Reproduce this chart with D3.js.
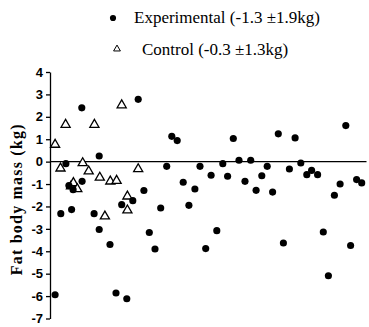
<!DOCTYPE html>
<html>
<head>
<meta charset="utf-8">
<script src="https://cdn.jsdelivr.net/npm/d3@7"></script>
<style>
  body { margin: 0; background: #fff; }
  svg { display: block; }
</style>
</head>
<body>
<div id="chart"></div>
<script>
// subject position along the row (arbitrary units) and change in fat mass (kg)
const expX = [1.7, 3.6, 5.3, 6.3, 7.2, 7.7, 10.6, 10.7, 14.7, 16.4, 16.4, 20, 22, 23.9, 25.6, 27.6,
  29.4, 31.3, 33.1, 35, 36.9, 38.9, 40.6, 42.4, 44.4, 46.3, 48.3, 50, 51.9, 53.7, 55.6, 57.6,
  59.2, 61.1, 63, 65, 66.9, 68.7, 70.6, 72.4, 74.2, 76.1, 77.8, 79.8, 81.7, 83.6, 85.6, 87.2,
  89.2, 91.1, 92.8, 94.8, 96.7, 98.6, 100.2, 102.2, 103.9];
const expY = [-5.94, -2.32, -0.09, -1.07, -2.14, -1.25, 2.4, -0.88, -2.32, 0.25, -3.03, -3.7, -5.86,
  -1.92, -6.12, -1.74, 2.78, -1.29, -3.16, -3.9, -2.07, -0.21, 1.13, 0.94, -0.92, -1.95, -1.22,
  -0.21, -3.88, -0.61, -3.08, -0.09, -0.65, 1.03, 0.06, -0.88, 0.06, -1.28, -0.63, -0.21, -1.36,
  1.24, -3.63, -0.33, 1.06, -0.06, -0.58, -0.39, -0.58, -3.14, -5.09, -1.5, -1.0, 1.61, -3.74,
  -0.8, -0.95];

const ctlX = [1.7, 3.5, 5.2, 7.0, 7.8, 9.1, 10.9, 12.9, 14.8, 16.6, 18.3, 20.1, 22.2, 23.9, 25.8, 25.8, 29.4];
const ctlY = [0.76, -0.3, 1.65, -1.1, -0.95, -1.22, -0.06, -0.43, 1.65, -0.71, -2.44, -0.88, -0.85,
  2.52, -1.55, -2.17, -0.33];

const yTicks = [4, 3, 2, 1, 0, -1, -2, -3, -4, -5, -6, -7];
const legendLabels = ['Experimental (-1.3 \u00b11.9kg)', 'Control (-0.3 \u00b11.3kg)'];

const width = 369, height = 327;

const svg = d3.select('#chart').append('svg')
  .attr('width', width)
  .attr('height', height);

const x = d3.scaleLinear().domain([0, 106]).range([50, 368]);
const y = d3.scaleLinear().domain([-7, 4]).range([318.5, 72]);

// y axis
const yAxis = d3.axisLeft(y)
  .tickValues(yTicks)
  .tickSize(4)
  .tickSizeOuter(0)
  .tickFormat(d => String(d));

const gy = svg.append('g')
  .attr('transform', 'translate(50,0)')
  .call(yAxis);
gy.select('.domain').attr('stroke', '#000').attr('stroke-width', 1.3);
gy.selectAll('.tick line').attr('stroke', '#000').attr('stroke-width', 1.3);
gy.selectAll('.tick text')
  .attr('x', -7)
  .attr('font-family', 'Liberation Sans, Arial, sans-serif')
  .attr('font-weight', 'bold')
  .attr('font-size', 13)
  .attr('fill', '#000');

// zero line
svg.append('line')
  .attr('x1', x(0)).attr('x2', x(105.5))
  .attr('y1', y(0)).attr('y2', y(0))
  .attr('stroke', '#000')
  .attr('stroke-width', 1.4);

// axis title
svg.append('text')
  .attr('transform', `translate(22,${(y(4) + y(-7)) / 2 + 4}) rotate(-90)`)
  .attr('text-anchor', 'middle')
  .attr('font-family', 'Liberation Serif, Times New Roman, serif')
  .attr('font-weight', 'bold')
  .attr('font-size', 16)
  .attr('letter-spacing', 1.2)
  .text('Fat body mass (kg)');

const circle = d3.symbol().type(d3.symbolCircle).size(40);
const tri = d3.symbol().type(d3.symbolTriangle).size(36);

// control (open triangles)
svg.append('g').selectAll('path')
  .data(ctlX.map((v, i) => [v, ctlY[i]]))
  .join('path')
  .attr('d', tri)
  .attr('transform', d => `translate(${x(d[0])},${y(d[1])})`)
  .attr('fill', '#fff')
  .attr('stroke', '#000')
  .attr('stroke-width', 1.3);

// experimental (filled circles)
svg.append('g').selectAll('path')
  .data(expX.map((v, i) => [v, expY[i]]))
  .join('path')
  .attr('d', circle)
  .attr('transform', d => `translate(${x(d[0])},${y(d[1])})`)
  .attr('fill', '#000');

// legend
const legend = svg.append('g');
legend.append('path')
  .attr('d', d3.symbol().type(d3.symbolCircle).size(30))
  .attr('transform', 'translate(113,18)')
  .attr('fill', '#000');
legend.append('text')
  .attr('x', 134).attr('y', 23)
  .attr('font-family', 'Liberation Serif, Times New Roman, serif')
  .attr('font-size', 17)
  .text(legendLabels[0]);
legend.append('path')
  .attr('d', d3.symbol().type(d3.symbolTriangle).size(20))
  .attr('transform', 'translate(117,49)')
  .attr('fill', '#fff')
  .attr('stroke', '#000')
  .attr('stroke-width', 1);
legend.append('text')
  .attr('x', 142).attr('y', 55)
  .attr('font-family', 'Liberation Serif, Times New Roman, serif')
  .attr('font-size', 17)
  .text(legendLabels[1]);
</script>
</body>
</html>
